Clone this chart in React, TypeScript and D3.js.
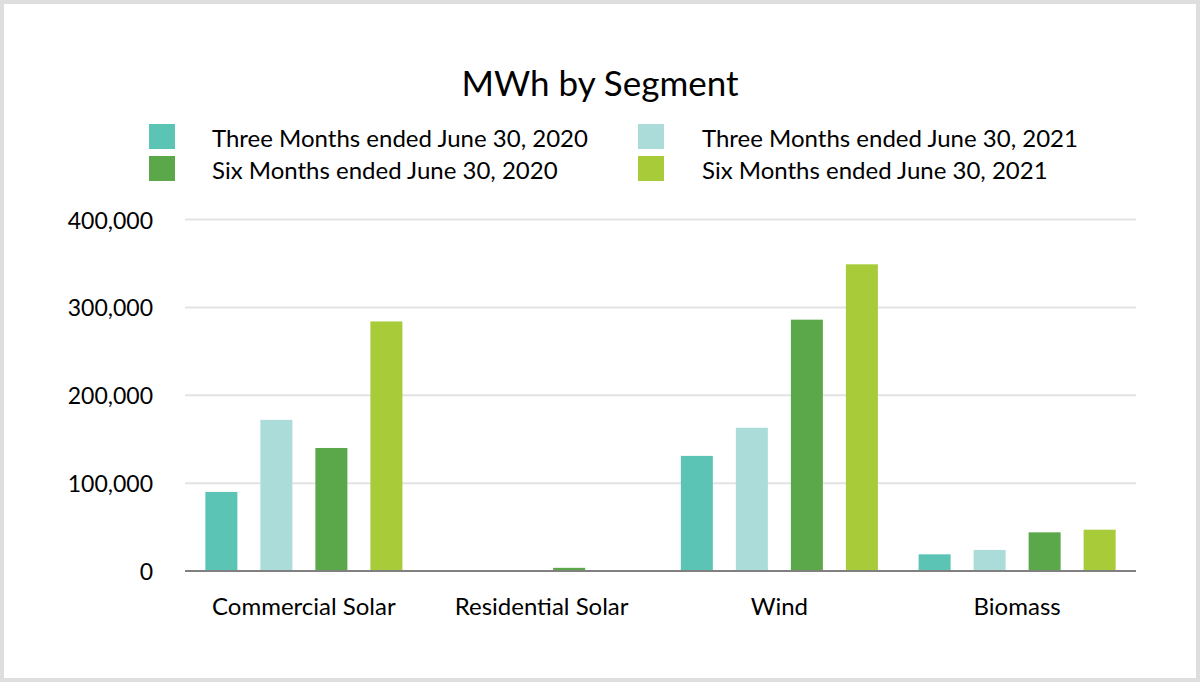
import React from "react";
import * as d3 from "d3";

const categories = ["Commercial Solar", "Residential Solar", "Wind", "Biomass"];
const seriesNames = [
  "Three Months ended June 30, 2020",
  "Three Months ended June 30, 2021",
  "Six Months ended June 30, 2020",
  "Six Months ended June 30, 2021",
];
const threeMonths2020 = [90000, 200, 131000, 19000];
const threeMonths2021 = [172000, 300, 163000, 24000];
const sixMonths2020 = [140000, 3600, 286000, 44000];
const sixMonths2021 = [284000, 400, 349000, 47000];
const seriesValues = [threeMonths2020, threeMonths2021, sixMonths2020, sixMonths2021];
const seriesColors = ["#5cc4b5", "#acdcd9", "#5ba84b", "#a8cb3a"];
const yTicks = [0, 100000, 200000, 300000, 400000];
const legendOrder = [0, 1, 2, 3];

const W = 1200;
const H = 682;
const FONT = "Lato, 'Open Sans', sans-serif";

export default function App() {
  const x0 = d3.scaleBand<string>().domain(categories).range([185, 1136]);
  const x1 = d3
    .scaleBand<number>()
    .domain([0, 1, 2, 3])
    .range([0, x0.bandwidth()])
    .paddingInner(0.418)
    .paddingOuter(0.37);
  const y = d3.scaleLinear().domain([0, 400000]).range([571, 219.5]);
  const fmt = d3.format(",");

  const legendPos = [
    { x: 149, y: 124, tx: 212 },
    { x: 638, y: 124, tx: 702 },
    { x: 149, y: 156, tx: 212 },
    { x: 638, y: 156, tx: 702 },
  ];

  return (
    <svg
      width={W}
      height={H}
      style={{ position: "absolute", left: 0, top: 0, background: "#fff" }}
      fontFamily={FONT}
    >
      <rect x={0} y={0} width={W} height={H} fill="#fff" />
      <rect x={2} y={2} width={W - 4} height={H - 4} fill="none" stroke="#dedede" strokeWidth={4} />

      <text x={600} y={82} textAnchor="middle" dominantBaseline="central" fontSize={35} fill="#000">
        MWh by Segment
      </text>

      {legendOrder.map((si, i) => {
        const p = legendPos[i];
        return (
          <g key={si}>
            <rect x={p.x} y={p.y} width={26} height={25} fill={seriesColors[si]} />
            <text x={p.tx} y={p.y + 13} dominantBaseline="central" fontSize={24} fill="#000">
              {seriesNames[si]}
            </text>
          </g>
        );
      })}

      {yTicks.map((t) => (
        <g key={t}>
          {t !== 0 && (
            <line x1={185} x2={1136} y1={y(t)} y2={y(t)} stroke="#e3e3e3" strokeWidth={2} />
          )}
          <text x={153} y={y(t)} textAnchor="end" dominantBaseline="central" fontSize={23} fill="#000">
            {fmt(t)}
          </text>
        </g>
      ))}

      {categories.map((c, ci) => (
        <g key={c} transform={`translate(${x0(c)},0)`}>
          {seriesValues.map((vals, si) => (
            <rect
              key={si}
              x={x1(si)}
              y={y(vals[ci])}
              width={x1.bandwidth()}
              height={y(0) - y(vals[ci])}
              fill={seriesColors[si]}
            />
          ))}
          <text
            x={x0.bandwidth() / 2}
            y={605}
            textAnchor="middle"
            dominantBaseline="central"
            fontSize={24}
            fill="#000"
          >
            {c}
          </text>
        </g>
      ))}

      <line x1={185} x2={1136} y1={y(0)} y2={y(0)} stroke="#808080" strokeWidth={2} />
    </svg>
  );
}
